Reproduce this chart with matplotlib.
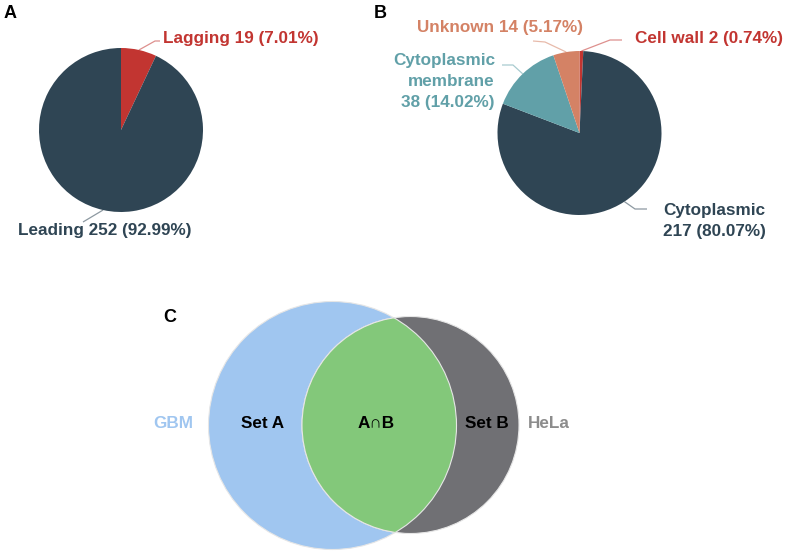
import matplotlib
matplotlib.use("Agg")
import matplotlib.pyplot as plt
from matplotlib.patches import Circle
import numpy as np

plt.rcParams['font.family'] = ['Liberation Sans', 'DejaVu Sans']

# ---- data ----
pie_a_labels = ['Lagging', 'Leading']
pie_a_values = [19, 252]
pie_a_colors = ['#c23531', '#2f4554']

pie_b_labels = ['Cell wall', 'Cytoplasmic', 'Cytoplasmic membrane', 'Unknown']
pie_b_values = [2, 217, 38, 14]
pie_b_colors = ['#c23531', '#2f4554', '#61a0a8', '#d48265']

venn_set_names = ['GBM', 'HeLa']
venn_region_labels = ['Set A', 'A\u2229B', 'Set B']
venn_colors = ['#a0c6f0', '#707074', '#83c87a']
venn_name_colors = ['#a0c6f0', '#8c8c8c']

W, H = 788, 553
fig = plt.figure(figsize=(W / 100, H / 100), dpi=100)
ax = fig.add_axes([0, 0, 1, 1])


def P(x, y):
    return (x, H - y)


FS = 12.3


def draw_pie(values, colors, cx, cy, r):
    wedges, _ = ax.pie(values, colors=colors, startangle=90, counterclock=False,
                       center=P(cx, cy), radius=r, wedgeprops=dict(linewidth=0))
    anchors = []
    for w in wedges:
        mid = np.deg2rad((w.theta1 + w.theta2) / 2)
        anchors.append((w.center[0] + w.r * np.cos(mid), w.center[1] + w.r * np.sin(mid)))
    return anchors


def label(anchor, elbow, end, color, lines, x, baselines, ha='left'):
    ex, ey = P(*elbow)
    nx, ny = P(*end)
    ax.plot([anchor[0], ex, nx], [anchor[1], ey, ny], color=color, lw=0.9, alpha=0.55,
            solid_capstyle='butt')
    for ln, b in zip(lines, baselines):
        ax.text(*P(x, b), ln, color=color, fontsize=FS, fontweight='bold', ha=ha, va='baseline')


# ---- Panel A ----
tot_a = sum(pie_a_values)
anc_a = draw_pie(pie_a_values, pie_a_colors, 121, 130, 82)
pa = [f"{l} {v} ({v / tot_a * 100:.2f}%)" for l, v in zip(pie_a_labels, pie_a_values)]
label(anc_a[0], (155, 41), (160, 41), pie_a_colors[0], [pa[0]], 163, [43])
label(anc_a[1], (83, 222), (83, 222), pie_a_colors[1], [pa[1]], 18, [235])

# ---- Panel B ----
tot_b = sum(pie_b_values)
anc_b = draw_pie(pie_b_values, pie_b_colors, 579.5, 133, 82)
pb = [f"{v} ({v / tot_b * 100:.2f}%)" for v in pie_b_values]
label(anc_b[0], (610, 40), (622, 40), pie_b_colors[0], [f"{pie_b_labels[0]} {pb[0]}"], 635, [43])
label(anc_b[1], (635, 209), (647, 209), pie_b_colors[1], ['Cytoplasmic', pb[1]], 663, [215, 236])
label(anc_b[2], (513, 65), (502, 65), pie_b_colors[2], ['Cytoplasmic', 'membrane', pb[2]], 495,
      [65, 86, 107], ha='right')
label(anc_b[3], (545, 42), (533, 41), pie_b_colors[3], [f"{pie_b_labels[3]} {pb[3]}"], 417, [32])

# ---- Panel C (Venn) ----
ca = Circle(P(332.5, 425.5), 124, facecolor=venn_colors[0], edgecolor='#e6e6e6', lw=0.8)
cb = Circle(P(410.5, 425), 108.5, facecolor=venn_colors[1], edgecolor='#e6e6e6', lw=0.8)
ax.add_patch(ca)
ax.add_patch(cb)
inter = Circle(P(332.5, 425.5), 124, facecolor=venn_colors[2], edgecolor='#e6e6e6', lw=0.8)
ax.add_patch(inter)
inter.set_clip_path(cb)
cb_edge = Circle(P(410.5, 425), 108.5, facecolor='none', edgecolor='#e6e6e6', lw=0.8)
ax.add_patch(cb_edge)
cb_edge.set_clip_path(ca)

for lab, xx in zip(venn_region_labels, [263, 376, 487]):
    ax.text(*P(xx, 424), lab, color='black', fontsize=FS, fontweight='bold', ha='center', va='center')
ax.text(*P(173, 424), venn_set_names[0], color=venn_name_colors[0], fontsize=FS, fontweight='bold',
        ha='center', va='center')
ax.text(*P(549, 424), venn_set_names[1], color=venn_name_colors[1], fontsize=FS, fontweight='bold',
        ha='center', va='center')

# ---- panel letters ----
for t, (x, y) in zip(['A', 'B', 'C'], [(10, 14), (380, 13), (170, 317)]):
    ax.text(*P(x, y), t, color='black', fontsize=13, fontweight='bold', ha='center', va='center')

ax.set_xlim(0, W)
ax.set_ylim(0, H)
ax.set_aspect('equal')
ax.axis('off')
fig.savefig('out.png', dpi=100)
